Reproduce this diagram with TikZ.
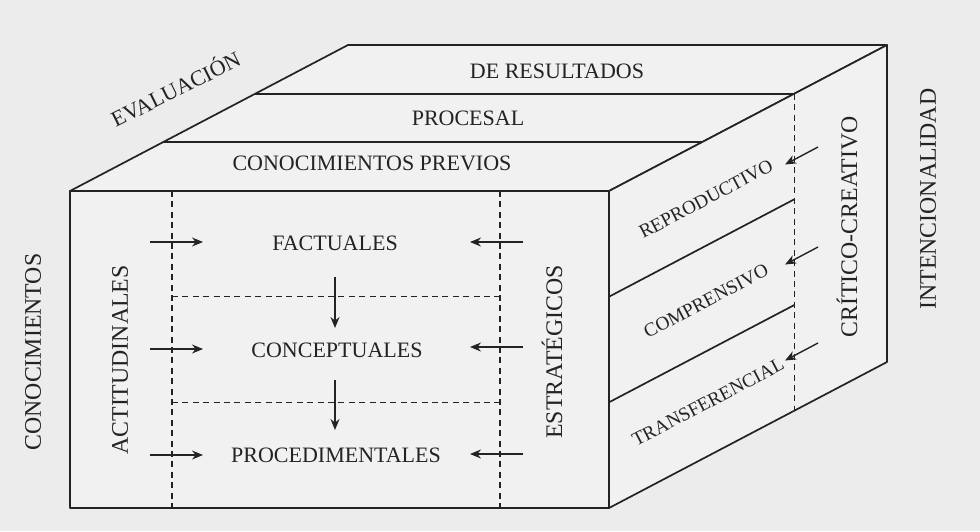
\documentclass[tikz,border=0pt]{standalone}
\usepackage{fontspec}
\setmainfont{Liberation Serif}
\usetikzlibrary{arrows.meta}
\definecolor{paper}{RGB}{236,236,236}
\definecolor{face}{RGB}{241,241,241}
\definecolor{ink}{RGB}{35,35,35}
\begin{document}
\begin{tikzpicture}[x=0.5pt,y=-0.5pt,
  edge/.style={draw=ink,line width=0.85pt,line join=round},
  dashline/.style={draw=ink,line width=0.6pt,dash pattern=on 3pt off 2.2pt},
  arr/.style={draw=ink,line width=0.7pt,-{Stealth[length=5.5pt,width=4.5pt]}},
  lab/.style={text=ink,font=\fontsize{11}{13}\selectfont,inner sep=0pt},
  slab/.style={lab,font=\fontsize{9.6}{11}\selectfont,rotate=27.7},
  vlab/.style={lab,font=\fontsize{11.9}{14}\selectfont,rotate=90}]
\fill[paper] (0,0) rectangle (980,531);
\useasboundingbox (0,0) rectangle (980,531);
% cube corners
\coordinate (A) at (70,191);
\coordinate (B) at (609,191);
\coordinate (C) at (609,508);
\coordinate (D) at (70,508);
\coordinate (E) at (348,45);
\coordinate (F) at (887,45);
\coordinate (G) at (887,362);
% top face lines
\coordinate (t1l) at (162.7,142.3);
\coordinate (t1r) at (701.7,142.3);
\coordinate (t2l) at (255.3,93.7);
\coordinate (t2r) at (794.3,93.7);
% right face lines
\coordinate (r1l) at (609,296.7);
\coordinate (r1r) at (794.3,199.3);
\coordinate (r2l) at (609,402.3);
\coordinate (r2r) at (794.3,305);
\coordinate (rdb) at (794.3,410.7);
% front dashed lines
\coordinate (f1t) at (172,191);
\coordinate (f1b) at (172,508);
\coordinate (f2t) at (500,191);
\coordinate (f2b) at (500,508);
\coordinate (h1l) at (172,296.7);
\coordinate (h1r) at (500,296.7);
\coordinate (h2l) at (172,402.3);
\coordinate (h2r) at (500,402.3);
% faces
\draw[edge,fill=face] (A) -- (E) -- (F) -- (B) -- cycle;
\draw[edge,fill=face] (B) -- (F) -- (G) -- (C) -- cycle;
\draw[edge,fill=face] (A) -- (B) -- (C) -- (D) -- cycle;
\draw[edge] (t1l) -- (t1r);
\draw[edge] (t2l) -- (t2r);
\draw[edge] (r1l) -- (r1r);
\draw[edge] (r2l) -- (r2r);
\draw[dashline] (t2r) -- (rdb);
\draw[dashline] (f1t) -- (f1b);
\draw[dashline] (f2t) -- (f2b);
\draw[dashline] (h1l) -- (h1r);
\draw[dashline] (h2l) -- (h2r);
% labels
\node[lab,rotate=26.5] (eval) at (175,88) {EVALUACIÓN};
\node[lab] (res) at (557,71) {DE RESULTADOS};
\node[lab] (proc) at (468,118) {PROCESAL};
\node[lab] (prev) at (372,163) {CONOCIMIENTOS PREVIOS};
\node[lab] (fac) at (335,243) {FACTUALES};
\node[lab] (con) at (337,350) {CONCEPTUALES};
\node[lab] (pro) at (336,455) {PROCEDIMENTALES};
\node[vlab] (cono) at (33,352) {CONOCIMIENTOS};
\node[vlab] (acti) at (120,360) {ACTITUDINALES};
\node[vlab] (estr) at (552,352) {ESTRATÉGICOS};
\node[slab] (repr) at (706,199) {REPRODUCTIVO};
\node[slab] (comp) at (706,301) {COMPRENSIVO};
\node[slab] (tran) at (708,402) {TRANSFERENCIAL};
\node[vlab] (crit) at (847,227) {CRÍTICO-CREATIVO};
\node[vlab] (inte) at (928,199) {INTENCIONALIDAD};
% arrow end points
\coordinate (la1) at (150,242); \coordinate (lb1) at (203,242);
\coordinate (la2) at (150,349); \coordinate (lb2) at (203,349);
\coordinate (la3) at (150,455); \coordinate (lb3) at (203,455);
\coordinate (ra1) at (523,242); \coordinate (rb1) at (470,242);
\coordinate (ra2) at (523,347); \coordinate (rb2) at (470,347);
\coordinate (ra3) at (523,454); \coordinate (rb3) at (470,454);
\coordinate (da1) at (335,277); \coordinate (db1) at (335,328);
\coordinate (da2) at (335,380); \coordinate (db2) at (335,430);
\coordinate (sa1) at (818,147); \coordinate (sb1) at (785,164.5);
\coordinate (sa2) at (818,247); \coordinate (sb2) at (785,264.5);
\coordinate (sa3) at (818,343); \coordinate (sb3) at (785,360.5);
\draw[arr] (la1) -- (lb1);
\draw[arr] (la2) -- (lb2);
\draw[arr] (la3) -- (lb3);
\draw[arr] (ra1) -- (rb1);
\draw[arr] (ra2) -- (rb2);
\draw[arr] (ra3) -- (rb3);
\draw[arr] (da1) -- (db1);
\draw[arr] (da2) -- (db2);
\draw[arr] (sa1) -- (sb1);
\draw[arr] (sa2) -- (sb2);
\draw[arr] (sa3) -- (sb3);
\end{tikzpicture}
\end{document}
